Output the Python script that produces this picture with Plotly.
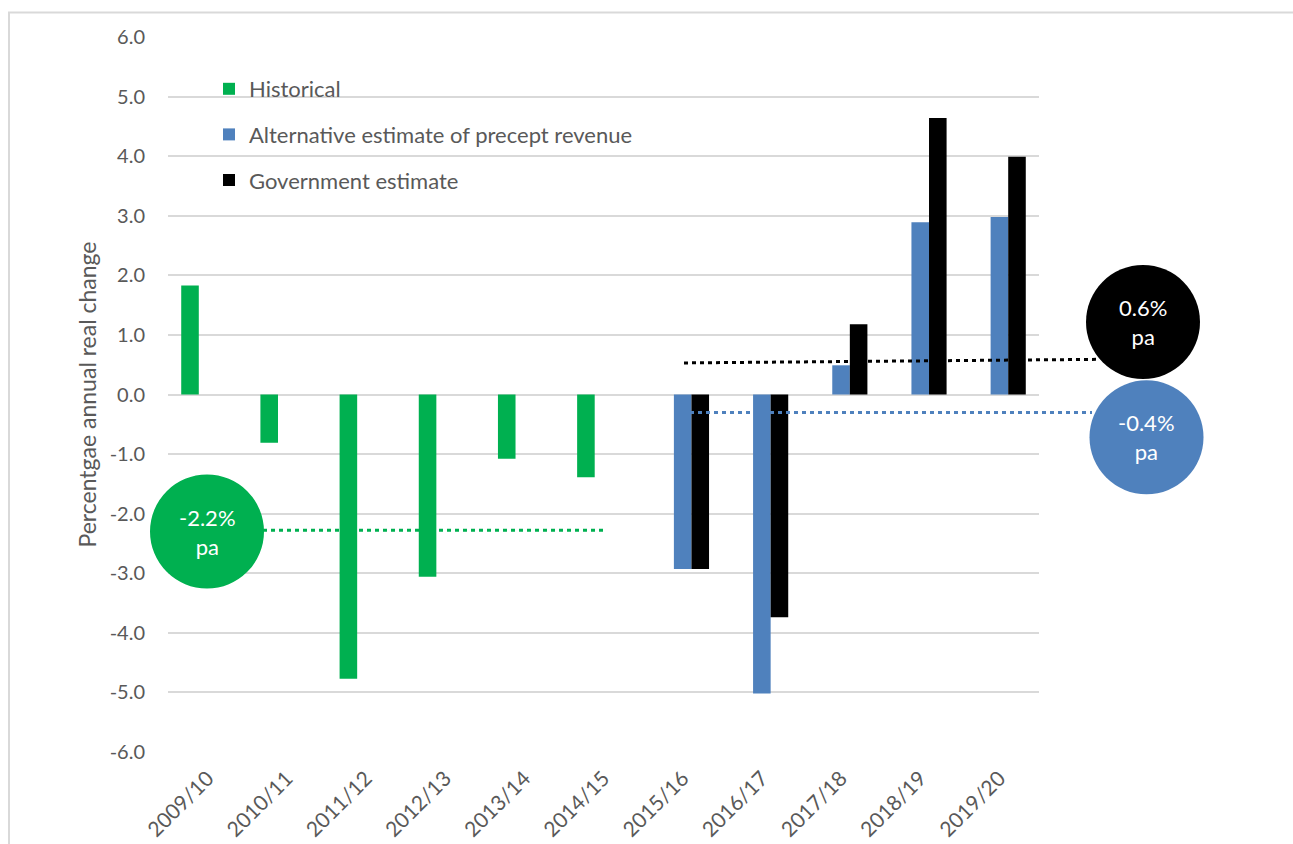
import plotly.graph_objects as go

categories = ["2009/10", "2010/11", "2011/12", "2012/13", "2013/14", "2014/15",
              "2015/16", "2016/17", "2017/18", "2018/19", "2019/20"]
historical = [1.83, -0.81, -4.77, -3.06, -1.08, -1.39, None, None, None, None, None]
alternative = [None, None, None, None, None, None, -2.93, -5.02, 0.49, 2.89, 2.98]
government = [None, None, None, None, None, None, -2.93, -3.74, 1.18, 4.64, 3.99]
series_names = ["Historical", "Alternative estimate of precept revenue", "Government estimate"]
y_tick_vals = [-6, -5, -4, -3, -2, -1, 0, 1, 2, 3, 4, 5, 6]
y_tick_text = ["-6.0", "-5.0", "-4.0", "-3.0", "-2.0", "-1.0", "0.0",
               "1.0", "2.0", "3.0", "4.0", "5.0", "6.0"]

# average-growth reference lines (value at start, value at end) and labels
avg_green = (-2.28, -2.28)
avg_blue = (-0.30, -0.30)
avg_black = (0.53, 0.59)
avg_labels = ["-2.2%<br>pa", "-0.4%<br>pa", "0.6%<br>pa"]

GREEN = "#00B050"
BLUE = "#4F81BD"
BLACK = "#000000"
TXT = "#595959"
FONT = "Lato, Carlito, Calibri, sans-serif"

W, H = 1293, 844
ML, MR, MT, MB = 168, 254, 37, 92
PW = W - ML - MR
PH = H - MT - MB
YMIN, YMAX = -6, 6


def px_x(px):
    return (px - ML) / PW


def px_y(py):
    return (H - MB - py) / PH


def val_y(v):
    return (v - YMIN) / (YMAX - YMIN)


fig = go.Figure()
for name, vals, col in zip(series_names, [historical, alternative, government], [GREEN, BLUE, BLACK]):
    fig.add_trace(go.Bar(
        x=categories, y=vals, name=name, legendgroup=name,
        marker=dict(color=col, line=dict(width=0)),
    ))

shapes = []
# chart border
shapes.append(dict(type="rect", xref="paper", yref="paper",
                   x0=px_x(9), x1=px_x(1400), y0=px_y(900), y1=px_y(12.5),
                   line=dict(color="#D9D9D9", width=2), fillcolor="rgba(0,0,0,0)", layer="below"))

dash = "4px,4px"
shapes.append(dict(type="line", xref="paper", yref="paper",
                   x0=px_x(263), x1=px_x(607), y0=val_y(avg_green[0]), y1=val_y(avg_green[1]),
                   line=dict(color=GREEN, width=3, dash=dash)))
shapes.append(dict(type="line", xref="paper", yref="paper",
                   x0=px_x(690), x1=px_x(1092), y0=val_y(avg_blue[0]), y1=val_y(avg_blue[1]),
                   line=dict(color=BLUE, width=3, dash=dash)))
shapes.append(dict(type="line", xref="paper", yref="paper",
                   x0=px_x(684), x1=px_x(1097), y0=val_y(avg_black[0]), y1=val_y(avg_black[1]),
                   line=dict(color=BLACK, width=3, dash=dash)))

R = 57
circles = [((207, 531.5), GREEN), ((1146.5, 437.3), BLUE), ((1143, 322), BLACK)]
annotations = []
for ((cx, cy), col), lab in zip(circles, avg_labels):
    shapes.append(dict(type="circle", xref="paper", yref="paper",
                       x0=px_x(cx - R), x1=px_x(cx + R), y0=px_y(cy + R), y1=px_y(cy - R),
                       fillcolor=col, line=dict(width=0), layer="above"))
    annotations.append(dict(xref="paper", yref="paper", x=px_x(cx), y=px_y(cy),
                            text=lab, showarrow=False, xanchor="center", yanchor="middle",
                            font=dict(family=FONT, size=22, color="white")))

fig.update_layout(
    width=W, height=H,
    margin=dict(l=ML, r=MR, t=MT, b=MB, pad=0, autoexpand=False),
    paper_bgcolor="white", plot_bgcolor="white",
    barmode="group", bargap=0.334, bargroupgap=0,
    font=dict(family=FONT, size=20, color=TXT),
    showlegend=True,
    legend=dict(x=px_x(209), y=px_y(68), xanchor="left", yanchor="top",
                bgcolor="rgba(0,0,0,0)", font=dict(size=22, color=TXT),
                tracegroupgap=14, traceorder="grouped"),
    shapes=shapes,
    annotations=annotations,
)
fig.update_xaxes(type="category", tickangle=-45, showgrid=False, showline=False, automargin=False,
                 ticks="", ticklabelstandoff=9, tickfont=dict(size=21, color=TXT), zeroline=False)
fig.update_yaxes(range=[YMIN, YMAX], tickmode="array", tickvals=y_tick_vals, ticktext=y_tick_text,
                 showgrid=True, automargin=False,
                 gridcolor="#D9D9D9", gridwidth=1.5, zeroline=False, showline=False,
                 ticks="", ticklabelstandoff=22, tickfont=dict(size=20, color=TXT),
                 title=dict(text="Percentgae annual real change", standoff=6,
                            font=dict(size=23, color=TXT)))

fig.write_html("out.html", config={"displayModeBar": False},
               post_script="document.body.style.margin='0';")
